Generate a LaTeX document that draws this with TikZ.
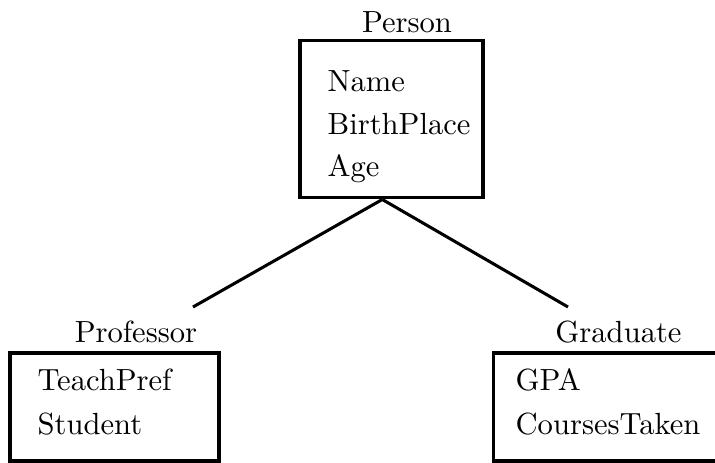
\documentclass[tikz,border=0pt]{standalone}
\usepackage{tikz}
\usetikzlibrary{positioning}

\tikzset{
  classbox/.style={draw, line width=1pt, inner sep=0pt},
  classname/.style={anchor=base, inner sep=0pt},
  attr/.style={anchor=base west, inner sep=0pt},
  isa/.style={line width=1pt}
}

\begin{document}
\begin{tikzpicture}[x=0.3268pt, y=-0.3268pt]
\useasboundingbox (0,0) rectangle (715,463);
% Person
\node[classbox, minimum width=59.8pt, minimum height=51.6pt] (person) at (391.5,119) {};
\node[classname] (personTitle) at (407,33) {Person};
\node[attr] (name) at (327,92) {Name};
\node[attr] (birthplace) at (327,135) {BirthPlace};
\node[attr] (age) at (327,177) {Age};
% Professor
\node[classbox, minimum width=68.3pt, minimum height=35.3pt] (professor) at (114.5,407) {};
\node[classname] (profTitle) at (136,343) {Professor};
\node[attr] (teachpref) at (37,391) {TeachPref};
\node[attr] (student) at (37,435) {Student};
% Graduate
\node[classbox, minimum width=74.8pt, minimum height=35.3pt] (graduate) at (607.5,407) {};
\node[classname] (gradTitle) at (618.5,343) {Graduate};
\node[attr] (gpa) at (515,391) {GPA};
\node[attr] (coursestaken) at (515,435) {CoursesTaken};
% isa lines
\coordinate (profJoin) at (193,307);
\coordinate (gradJoin) at (568,307);
\draw[isa] ([xshift=-3pt]person.south) -- (profJoin);
\draw[isa] ([xshift=-3pt]person.south) -- (gradJoin);
\end{tikzpicture}
\end{document}
